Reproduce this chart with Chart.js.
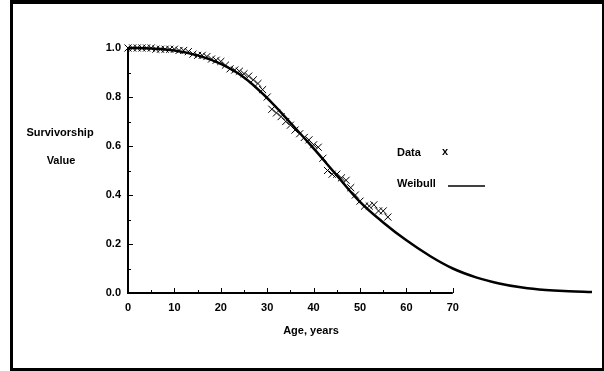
<!DOCTYPE html>
<html>
<head>
<meta charset="utf-8">
<script src="https://cdn.jsdelivr.net/npm/chart.js@4.4.1/dist/chart.umd.min.js"></script>
<style>
  html, body { margin: 0; padding: 0; background: #fff; }
  #wrap { position: relative; width: 604px; height: 371px; }
  #frame { position: absolute; left: 10px; top: 0px; width: 589px; height: 364px; border: 3px solid #000; border-top-width: 4px; box-sizing: content-box; pointer-events: none; }
  canvas { position: absolute; left: 0; top: 0; }
</style>
</head>
<body>
<div id="wrap">
  <canvas id="c" width="604" height="371"></canvas>
  <div id="frame"></div>
</div>
<script>
// ---- data ----
const ages = [0,1,2,3,4,5,6,7,8,9,10,11,12,13,14,15,16,17,18,19,20,21,22,23,24,25,26,27,28,29,30,31,32,33,34,35,36,37,38,39,40,41,42,43,44,45,46,47,48,49,50,51,52,53,54,55,56];
const survival = [1.0,1.0,1.0,1.0,1.0,1.0,0.995,0.995,0.995,0.995,0.995,0.99,0.99,0.985,0.975,0.97,0.97,0.965,0.955,0.95,0.945,0.93,0.915,0.91,0.905,0.895,0.885,0.87,0.855,0.83,0.80,0.75,0.735,0.72,0.70,0.685,0.665,0.65,0.635,0.625,0.605,0.595,0.55,0.50,0.485,0.485,0.47,0.46,0.43,0.40,0.375,0.355,0.355,0.36,0.335,0.335,0.31];
const curveAges = [0,5,10,15,20,25,30,35,40,45,50,55,60,65,70,75,80,85,90,95,100];
const weibull = [1.0,0.998,0.99,0.97,0.935,0.88,0.795,0.695,0.59,0.48,0.372,0.288,0.215,0.152,0.10,0.064,0.039,0.022,0.012,0.007,0.004];
const xTickValues = [0,10,20,30,40,50,60,70];
const yTickValues = [0,0.2,0.4,0.6,0.8,1.0];
const yTitleLines = ['Survivorship','Value'];
const xTitle = 'Age, years';
const legendLabels = ['Data','Weibull'];

const FONT = '"Liberation Sans", Arial, Helvetica, sans-serif';

const decor = {
  id: 'decor',
  afterDraw(chart) {
    const ctx = chart.ctx;
    const xs = chart.scales.x, ys = chart.scales.y;
    const x0 = xs.getPixelForValue(0), x70 = xs.getPixelForValue(70);
    const y0 = ys.getPixelForValue(0), y1 = ys.getPixelForValue(1);
    ctx.save();
    ctx.strokeStyle = '#000';
    ctx.lineCap = 'butt';
    // axes
    ctx.lineWidth = 2;
    ctx.beginPath();
    ctx.moveTo(x0, y1 - 1); ctx.lineTo(x0, y0 + 1);
    ctx.moveTo(x0 - 1, y0); ctx.lineTo(x70, y0);
    ctx.stroke();
    // inward ticks
    ctx.lineWidth = 1;
    ctx.beginPath();
    for (let v = 5; v <= 70; v += 5) {
      const px = Math.round(xs.getPixelForValue(v)) + 0.5;
      const len = (v % 10 === 0) ? 5 : 3;
      ctx.moveTo(px, y0); ctx.lineTo(px, y0 - len);
    }
    for (let i = 1; i <= 10; i++) {
      const py = Math.round(ys.getPixelForValue(i / 10)) + 0.5;
      const len = (i % 2 === 0) ? 5 : 3;
      ctx.moveTo(x0, py); ctx.lineTo(x0 + len, py);
    }
    ctx.stroke();
    // titles
    ctx.fillStyle = '#000';
    ctx.font = 'bold 11px ' + FONT;
    ctx.textAlign = 'center';
    ctx.textBaseline = 'middle';
    ctx.fillText(yTitleLines[0], 60, 133);
    ctx.fillText(yTitleLines[1], 61, 161);
    ctx.fillText(xTitle, 311, 331);
    // legend
    ctx.textAlign = 'left';
    ctx.fillText(legendLabels[0], 397, 153);
    ctx.fillText('x', 442, 152);
    ctx.fillText(legendLabels[1], 397, 184);
    ctx.lineWidth = 1.5;
    ctx.beginPath();
    ctx.moveTo(448, 186); ctx.lineTo(485, 186);
    ctx.stroke();
    ctx.restore();
  }
};

new Chart(document.getElementById('c'), {
  type: 'scatter',
  data: {
    datasets: [
      {
        label: 'Weibull',
        data: curveAges.map((a, i) => ({ x: a, y: weibull[i] })),
        showLine: true,
        borderColor: '#000',
        borderWidth: 2.5,
        pointRadius: 0,
        tension: 0.4,
        fill: false,
        clip: false,
        order: 2
      },
      {
        label: 'Data',
        data: ages.map((a, i) => ({ x: a, y: survival[i] })),
        showLine: false,
        pointStyle: 'crossRot',
        pointRadius: 5,
        borderColor: '#000',
        backgroundColor: '#000',
        pointBorderWidth: 1,
        clip: false,
        order: 1
      }
    ]
  },
  options: {
    responsive: false,
    animation: false,
    devicePixelRatio: 1,
    layout: { padding: { left: 0, top: 48, right: 12, bottom: 0 } },
    plugins: { legend: { display: false }, tooltip: { enabled: false }, title: { display: false } },
    scales: {
      x: {
        type: 'linear', min: 0, max: 100,
        afterBuildTicks(s) { s.ticks = xTickValues.map(v => ({ value: v })); },
        afterFit(s) { s.height = 78; },
        grid: { display: false, drawTicks: false },
        border: { display: false },
        ticks: { color: '#000', font: { family: FONT, size: 11, weight: 'bold' }, padding: 8, maxRotation: 0, autoSkip: false, callback: v => String(v) }
      },
      y: {
        type: 'linear', min: 0, max: 1,
        afterBuildTicks(s) { s.ticks = yTickValues.map(v => ({ value: v })); },
        afterFit(s) { s.width = 128; },
        grid: { display: false, drawTicks: false },
        border: { display: false },
        ticks: { color: '#000', font: { family: FONT, size: 11, weight: 'bold' }, padding: 7, callback: v => Number(v).toFixed(1) }
      }
    }
  },
  plugins: [decor]
});
</script>
</body>
</html>
